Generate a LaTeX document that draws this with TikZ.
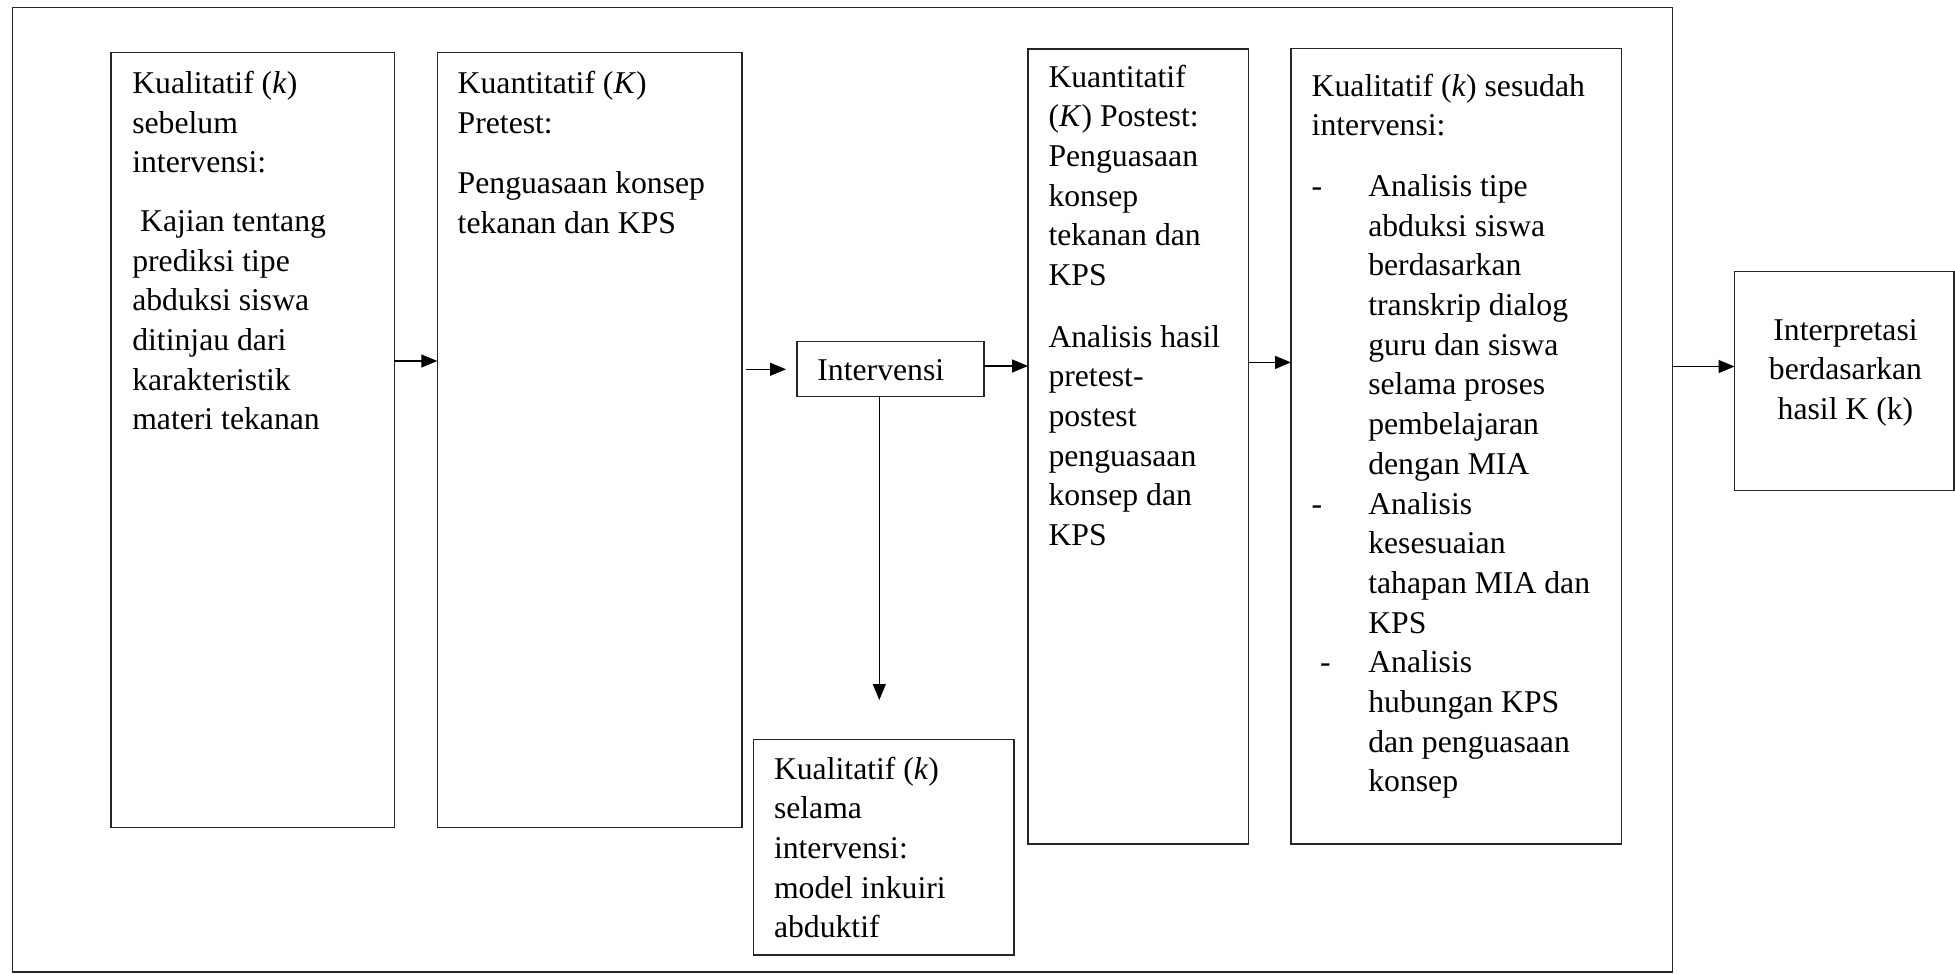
\documentclass[tikz,border=0pt]{standalone}
\usepackage{fontspec}
\setmainfont{Liberation Serif}
\usetikzlibrary{arrows.meta}
\newcommand\myind{\hspace*{56.6pt}}
\newcommand\mydash{\makebox[56.6pt][l]{-}}
\newcommand\mydashb{\hspace*{8.3pt}\makebox[48.3pt][l]{-}}
\newcommand\firststrut{\rule{0pt}{25pt}}
\begin{document}
\begin{tikzpicture}[x=1pt,y=-1pt,
  box/.style={draw=black!85,line width=1.2pt,anchor=north west,inner sep=0pt,outer sep=0pt},
  txt/.style={anchor=north west,inner sep=0pt,outer sep=0pt,align=left,font=\fontsize{31.7}{39.7}\selectfont},
  arr/.style={draw=black,line width=1.2pt,-{Triangle[length=16pt,width=13pt]}}]
\useasboundingbox (0,0) rectangle (1955,974);
% boxes
\node[box,minimum width=1660pt,minimum height=964.7pt] (frame) at (12.7,7.3) {};
\node[box,minimum width=283.3pt,minimum height=774.6pt] (box1) at (111,52.7) {};
\node[box,minimum width=304.7pt,minimum height=774.6pt] (box2) at (437.3,52.7) {};
\node[box,minimum width=187pt,minimum height=55pt] (interv) at (797,341.7) {};
\node[box,minimum width=260.5pt,minimum height=215.3pt] (selama) at (753.5,739.7) {};
\node[box,minimum width=220.2pt,minimum height=795pt] (postest) at (1028,49) {};
\node[box,minimum width=330.5pt,minimum height=795.3pt] (sesudah) at (1291,48.7) {};
\node[box,minimum width=219.5pt,minimum height=219.4pt] (interp) at (1734.5,271.3) {};
% texts
\node[txt] (t1) at (132.3,68.3) {\firststrut Kualitatif (\textit{k})\\ sebelum\\ intervensi:\\[19pt]
  \hspace*{7.9pt}Kajian tentang\\ prediksi tipe\\ abduksi siswa\\ ditinjau dari\\ karakteristik\\ materi tekanan};
\node[txt] (t2) at (457.7,68.3) {\firststrut Kuantitatif (\textit{K})\\ Pretest:\\[21pt]
  Penguasaan konsep\\ tekanan dan KPS};
\node[txt] (t3) at (1048.5,62) {\firststrut Kuantitatif\\ (\textit{K}) Postest:\\ Penguasaan\\ konsep\\ tekanan dan\\ KPS\\[21.8pt]
  Analisis hasil\\ pretest-\\ postest\\ penguasaan\\ konsep dan\\ KPS};
\node[txt] (t4) at (1311.7,71) {\firststrut Kualitatif (\textit{k}) sesudah\\ intervensi:\\[21pt]
  \mydash Analisis tipe\\ \myind abduksi siswa\\ \myind berdasarkan\\ \myind transkrip dialog\\
  \myind guru dan siswa\\ \myind selama proses\\ \myind pembelajaran\\ \myind dengan MIA\\
  \mydash Analisis\\ \myind kesesuaian\\ \myind tahapan MIA dan\\ \myind KPS\\
  \mydashb Analisis\\ \myind hubungan KPS\\ \myind dan penguasaan\\ \myind konsep};
\node[txt] (t5) at (774,754) {\firststrut Kualitatif (\textit{k})\\ selama\\ intervensi:\\ model inkuiri\\ abduktif};
\node[txt] (t6) at (817.4,355.8) {\firststrut Intervensi};
\node[txt,anchor=north,align=center] (t7) at (1845.5,315) {\firststrut Interpretasi\\ berdasarkan\\ hasil K (k)};
% arrow levels
\coordinate (ya) at (0,361);
\coordinate (yb) at (0,369.3);
\coordinate (yc) at (0,366);
\coordinate (yd) at (0,362.4);
\coordinate (ye) at (0,366.5);
\coordinate (xf) at (879.3,0);
% connectors
\draw[arr] (box1.east |- ya) -- (box2.west |- ya);
\draw[arr,shorten <=3.5pt,shorten >=11pt] (box2.east |- yb) -- (interv.west |- yb);
\draw[arr] (interv.east |- yc) -- (postest.west |- yc);
\draw[arr] (postest.east |- yd) -- (sesudah.west |- yd);
\draw[arr] (frame.east |- ye) -- (interp.west |- ye);
\draw[arr,shorten >=39.7pt] (xf |- interv.south) -- (xf |- selama.north);
\end{tikzpicture}
\end{document}
